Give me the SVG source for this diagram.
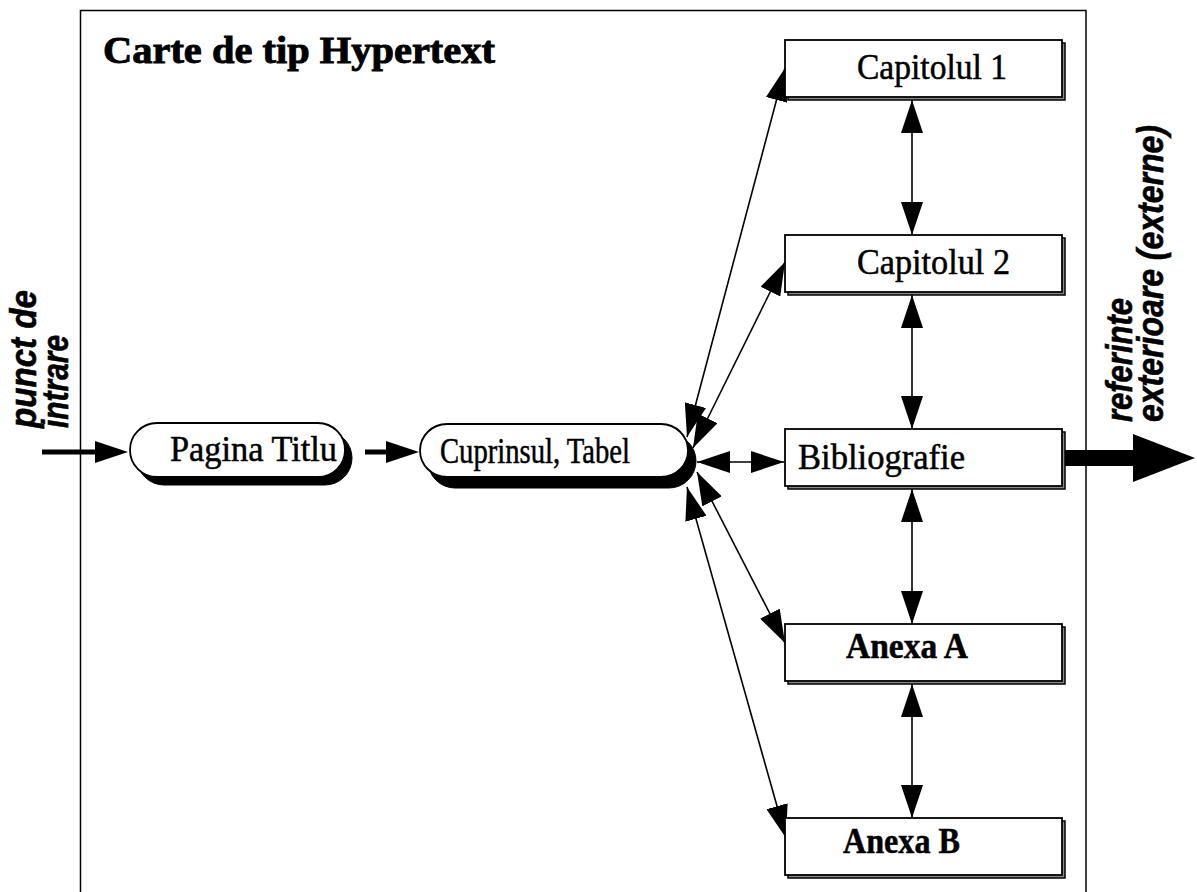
<svg xmlns="http://www.w3.org/2000/svg" width="1197" height="892" viewBox="0 0 1197 892">
<style>
.frame{fill:none;stroke:#000;stroke-width:1.5}
.box{fill:#fff;stroke:#000;stroke-width:1.8}
.boxsh{fill:#8a8a8a;stroke:#000;stroke-width:1.5}
.pill{fill:#fff;stroke:#000;stroke-width:1.8}
.pillsh{fill:#000;stroke:#000}
.lbl{font-family:"Liberation Serif","Times New Roman",serif;font-size:35px;fill:#000;stroke:#000;stroke-width:0.5}
.bold{font-weight:bold}
.title{font-family:"Liberation Serif","Times New Roman",serif;font-size:37px;font-weight:bold;fill:#000;stroke:#000;stroke-width:0.9}
.side{font-family:"Liberation Sans",Arial,sans-serif;font-size:37px;font-weight:bold;font-style:italic;fill:#000;stroke:#000;stroke-width:0.6}
.thin{stroke:#000;stroke-width:1.6;fill:none;marker-start:url(#ah);marker-end:url(#ah)}
.thick{stroke:#000;stroke-width:5;fill:none}
</style>
<defs>
<marker id="ah" markerUnits="userSpaceOnUse" markerWidth="33" markerHeight="22" refX="33" refY="11" orient="auto-start-reverse" viewBox="0 0 33 22">
<path d="M0,0 L33,11 L0,22 z" fill="#000"/>
</marker>
</defs>
<rect class="frame" x="80.5" y="10.5" width="1005.5" height="900"/>
<text class="title" x="103" y="63" textLength="392" lengthAdjust="spacingAndGlyphs">Carte de tip Hypertext</text>

<g id="connectors">
<line x1="42" y1="452" x2="100" y2="452" class="thick"/>
<path d="M95,441 L128,452 L95,463 z" fill="#000"/>
<line x1="365" y1="452" x2="392" y2="452" class="thick"/>
<path d="M386,441 L419,452 L386,463 z" fill="#000"/>
<line x1="687" y1="437" x2="785" y2="68" class="thin"/>
<line x1="693" y1="448" x2="785" y2="262" class="thin"/>
<line x1="697" y1="462" x2="784" y2="462" class="thin"/>
<line x1="697" y1="472" x2="785" y2="643" class="thin"/>
<line x1="687" y1="487" x2="786" y2="838" class="thin"/>
<line x1="912" y1="100" x2="912" y2="235" class="thin"/>
<line x1="912" y1="295" x2="912" y2="429" class="thin"/>
<line x1="912" y1="489" x2="912" y2="624" class="thin"/>
<line x1="912" y1="684" x2="912" y2="818" class="thin"/>
<rect x="1065" y="450" width="72" height="16" fill="#000"/>
<path d="M1133,434 L1195,458 L1133,482 z" fill="#000"/>
</g>

<g id="pagina-titlu">
<rect class="pillsh" x="137" y="431" width="215" height="54" rx="27"/>
<rect class="pill" x="130" y="423" width="215" height="54" rx="27"/>
<text class="lbl" x="170" y="461" textLength="167" lengthAdjust="spacingAndGlyphs">Pagina Titlu</text>
</g>

<g id="cuprinsul">
<rect class="pillsh" x="428" y="434" width="268" height="54" rx="27"/>
<rect class="pill" x="420" y="424" width="268" height="53" rx="27"/>
<text class="lbl" x="440" y="463" textLength="190" lengthAdjust="spacingAndGlyphs">Cuprinsul, Tabel</text>
</g>

<g id="capitolul1">
<rect class="boxsh" x="788" y="43" width="277" height="57"/>
<rect class="box" x="785" y="40" width="277" height="57"/>
<text class="lbl" x="857" y="79" textLength="150" lengthAdjust="spacingAndGlyphs">Capitolul 1</text>
</g>

<g id="capitolul2">
<rect class="boxsh" x="788" y="238" width="277" height="57"/>
<rect class="box" x="785" y="235" width="277" height="57"/>
<text class="lbl" x="857" y="274" textLength="153" lengthAdjust="spacingAndGlyphs">Capitolul 2</text>
</g>

<g id="bibliografie">
<rect class="boxsh" x="788" y="432" width="277" height="57"/>
<rect class="box" x="785" y="429" width="277" height="57"/>
<text class="lbl" x="798" y="469" textLength="167" lengthAdjust="spacingAndGlyphs">Bibliografie</text>
</g>

<g id="anexa-a">
<rect class="boxsh" x="788" y="627" width="277" height="57"/>
<rect class="box" x="785" y="624" width="277" height="57"/>
<text class="lbl bold" x="846" y="658" textLength="122" lengthAdjust="spacingAndGlyphs">Anexa A</text>
</g>

<g id="anexa-b">
<rect class="boxsh" x="788" y="821" width="277" height="57"/>
<rect class="box" x="785" y="818" width="277" height="57"/>
<text class="lbl bold" x="843" y="853" textLength="117" lengthAdjust="spacingAndGlyphs">Anexa B</text>
</g>

<g id="punct-de-intrare">
<text class="side" transform="translate(36,428) rotate(-90)" textLength="138" lengthAdjust="spacingAndGlyphs">punct de</text>
<text class="side" transform="translate(68,428) rotate(-90)" textLength="93" lengthAdjust="spacingAndGlyphs">intrare</text>
</g>

<g id="referinte-exterioare">
<text class="side" transform="translate(1132,422) rotate(-90)" textLength="124" lengthAdjust="spacingAndGlyphs">referinte</text>
<text class="side" transform="translate(1163,422) rotate(-90)" textLength="297" lengthAdjust="spacingAndGlyphs">exterioare (externe)</text>
</g>
</svg>
